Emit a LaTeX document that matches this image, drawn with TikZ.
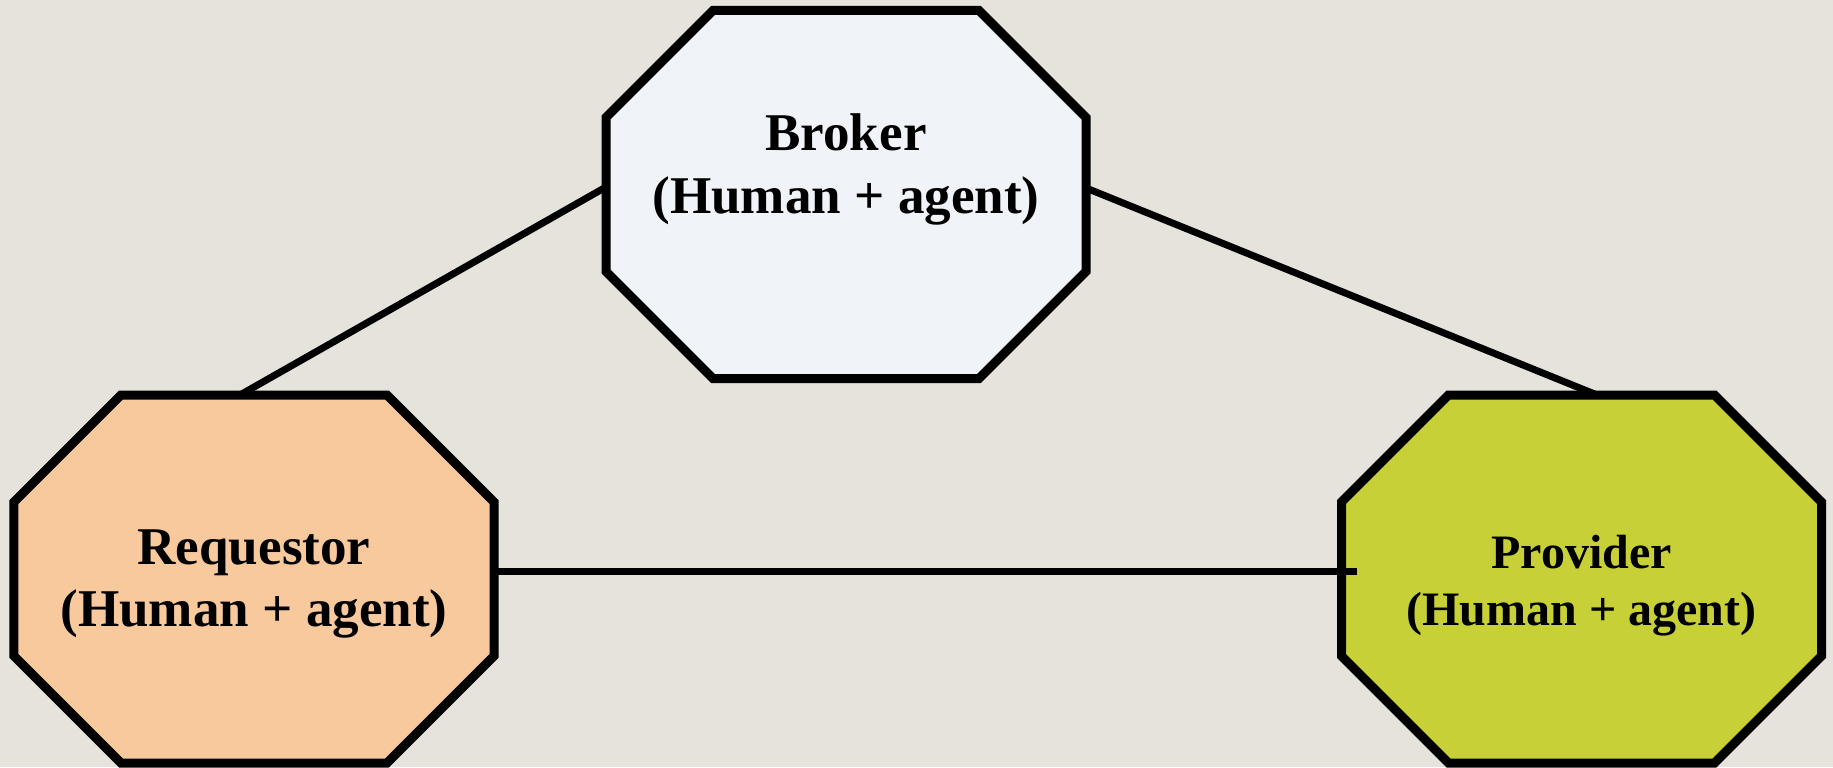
\documentclass[tikz,border=0pt]{standalone}
\usepackage{fontspec}
\setmainfont{Liberation Serif}

\definecolor{paper}{RGB}{229,227,220}
\definecolor{brokerfill}{RGB}{240,244,249}
\definecolor{requestorfill}{RGB}{249,201,158}
\definecolor{providerfill}{RGB}{199,209,55}

% octagon drawn on the corners of a named box node
\newcommand{\octagon}[2]{%
	\filldraw[fill=#2, line width=0.09cm, line join=miter]
		([xshift=1.07cm]#1.north west) -- ([xshift=-1.07cm]#1.north east)
		-- ([yshift=-1.07cm]#1.north east) -- ([yshift=1.07cm]#1.south east)
		-- ([xshift=-1.07cm]#1.south east) -- ([xshift=1.07cm]#1.south west)
		-- ([yshift=1.07cm]#1.south west) -- ([yshift=-1.07cm]#1.north west) -- cycle;}

\begin{document}
\begin{tikzpicture}[
		box/.style={inner sep=0pt, outer sep=0pt, minimum width=4.80cm, minimum height=3.68cm},
		link/.style={line width=0.07cm},
		role/.style={align=center, inner sep=0pt}]
			% Background
			\fill[paper] (0,0) rectangle (18.33,7.67);
			\useasboundingbox (0,0) rectangle (18.33,7.67);

			% Nodes
			\node[box] (broker) at (8.46, 5.725) {};
			\node[box] (requestor) at (2.54, 1.88) {};
			\node[box] (provider) at (15.815, 1.88) {};

			% Octagons
			\octagon{broker}{brokerfill}
			\octagon{requestor}{requestorfill}
			\octagon{provider}{providerfill}

			% Links
			\draw[link] ([yshift=0.075cm]broker.west) -- ([xshift=-0.14cm]requestor.north);
			\draw[link] ([yshift=0.065cm]broker.east) -- ([xshift=0.155cm]provider.north);
			\draw[link] ([yshift=0.08cm]requestor.east) -- ([xshift=0.155cm, yshift=0.08cm]provider.west);

			% Labels
			\node[role, font=\bfseries\fontsize{15.1}{17.9}\selectfont] (broker-txt) at (8.46, 5.98) {Broker\\(Human + agent)};
			\node[role, font=\bfseries\fontsize{15.1}{17.9}\selectfont] (requestor-txt) at (2.54, 1.83) {Requestor\\(Human + agent)};
			\node[role, font=\bfseries\fontsize{13.65}{16.2}\selectfont] (provider-txt) at (15.815, 1.815) {Provider\\(Human + agent)};
		\end{tikzpicture}
\end{document}
